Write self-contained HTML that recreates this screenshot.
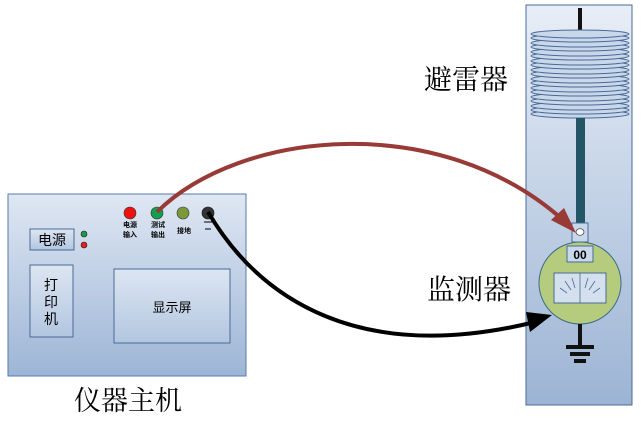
<!DOCTYPE html>
<html><head><meta charset="utf-8"><style>
body{margin:0;width:641px;height:420px;background:#fff;overflow:hidden;font-family:"Liberation Sans","Noto Sans CJK SC",sans-serif}
</style></head><body>
<svg width="641" height="420" viewBox="0 0 641 420" xmlns="http://www.w3.org/2000/svg" font-family="Liberation Sans, Noto Sans CJK SC, sans-serif">
<defs>
<linearGradient id="g1" x1="0" y1="0" x2="0" y2="1"><stop offset="0" stop-color="#dfe7f3"/><stop offset="1" stop-color="#9db5d6"/></linearGradient>
<linearGradient id="g2" x1="0" y1="0" x2="0" y2="1"><stop offset="0" stop-color="#dde6f2"/><stop offset="1" stop-color="#b2c6e0"/></linearGradient>
<linearGradient id="g3" x1="0" y1="0" x2="0" y2="1"><stop offset="0" stop-color="#e8eef7"/><stop offset="1" stop-color="#9cb4d4"/></linearGradient>
</defs>
<rect x="8" y="194" width="238" height="182" fill="url(#g1)" stroke="#5a7ba6" stroke-width="1"/>
<rect x="30" y="229" width="44" height="21" fill="url(#g2)" stroke="#4a6a96"/>
<text x="52" y="245" font-size="14" text-anchor="middle">电源</text>
<circle cx="84" cy="234" r="3" fill="#1a9a4a" stroke="#222" stroke-width=".6"/>
<circle cx="84" cy="245" r="3" fill="#e02020" stroke="#222" stroke-width=".6"/>
<rect x="30" y="265" width="43" height="72" fill="url(#g2)" stroke="#4a6a96"/>
<text x="51" y="290" font-size="14" text-anchor="middle">打</text>
<text x="51" y="307" font-size="14" text-anchor="middle">印</text>
<text x="51" y="324" font-size="14" text-anchor="middle">机</text>
<rect x="114" y="269" width="116" height="74" fill="url(#g2)" stroke="#4a6a96"/>
<text x="172" y="312" font-size="13" text-anchor="middle">显示屏</text>
<circle cx="130" cy="213" r="6" fill="#ee1111" stroke="#333" stroke-width=".6"/>
<circle cx="157" cy="213" r="6" fill="#11a050" stroke="#333" stroke-width=".6"/>
<circle cx="183" cy="213" r="6" fill="#7a9a3a" stroke="#333" stroke-width=".6"/>
<circle cx="208" cy="213" r="6" fill="#333" stroke="#111" stroke-width=".6"/>
<g font-size="7" font-weight="bold" text-anchor="middle">
<text x="130" y="227">电源</text><text x="130" y="237">输入</text>
<text x="158" y="227">测试</text><text x="158" y="237">输出</text>
<text x="184" y="233">接地</text>
</g>
<line x1="204" y1="222" x2="212" y2="222" stroke="#000" stroke-width="1"/>
<line x1="205" y1="229" x2="211" y2="229" stroke="#000" stroke-width="1"/>
<text x="128" y="410" font-size="27" text-anchor="middle" font-family="Liberation Serif, Noto Serif CJK SC, serif">仪器主机</text>
<rect x="526" y="5" width="106" height="400" fill="url(#g3)" stroke="#4a6a96"/>
<rect x="578" y="8" width="4" height="22" fill="#111"/>
<g fill="#c9d7ea" stroke="#4a6a96" stroke-width="1">
<ellipse cx="580" cy="114" rx="49" ry="4"/><ellipse cx="580" cy="110" rx="49" ry="4"/><ellipse cx="580" cy="106" rx="49" ry="4"/><ellipse cx="580" cy="101" rx="49" ry="4"/><ellipse cx="580" cy="97" rx="49" ry="4"/><ellipse cx="580" cy="92" rx="49" ry="4"/><ellipse cx="580" cy="88" rx="49" ry="4"/><ellipse cx="580" cy="83" rx="49" ry="4"/><ellipse cx="580" cy="79" rx="49" ry="4"/><ellipse cx="580" cy="74" rx="49" ry="4"/><ellipse cx="580" cy="70" rx="49" ry="4"/><ellipse cx="580" cy="65" rx="49" ry="4"/><ellipse cx="580" cy="61" rx="49" ry="4"/><ellipse cx="580" cy="56" rx="49" ry="4"/><ellipse cx="580" cy="52" rx="49" ry="4"/><ellipse cx="580" cy="47" rx="49" ry="4"/><ellipse cx="580" cy="43" rx="49" ry="4"/><ellipse cx="580" cy="38" rx="49" ry="4"/><ellipse cx="580" cy="34" rx="49" ry="4"/>
</g>
<rect x="576" y="118" width="9" height="106" fill="#235566"/>
<rect x="572" y="223" width="16" height="19" fill="#c9d7ea" stroke="#4a6a96"/>
<ellipse cx="580" cy="232" rx="4" ry="3.3" fill="#fff" stroke="#333" stroke-width=".7"/>
<circle cx="580" cy="283" r="41" fill="#b5cc7e" stroke="#3c6a8a" stroke-width="1"/>
<rect x="567" y="246" width="26" height="16" fill="#c9d7ea" stroke="#4a6a96"/>
<text x="580" y="259" font-size="12" font-weight="bold" text-anchor="middle">00</text>
<rect x="554" y="273" width="52" height="30" fill="#d5e0ee" stroke="#4a6a96"/>
<line x1="580" y1="273" x2="580" y2="303" stroke="#4a6a96" stroke-width=".8"/>
<g stroke="#4a6a96" stroke-width=".8">
<line x1="560" y1="288" x2="567" y2="293"/><line x1="565" y1="281" x2="571" y2="290"/><line x1="572" y1="278" x2="575" y2="288"/>
<line x1="588" y1="278" x2="585" y2="288"/><line x1="595" y1="281" x2="589" y2="290"/><line x1="600" y1="288" x2="593" y2="293"/>
</g>
<rect x="578" y="324" width="4" height="22" fill="#111"/>
<rect x="566" y="345" width="28" height="4" fill="#111"/>
<rect x="570" y="352" width="20" height="4" fill="#111"/>
<rect x="574" y="359" width="12" height="4" fill="#111"/>
<g font-family="Liberation Serif, Noto Serif CJK SC, serif" font-size="28">
<text x="424" y="89">避雷器</text>
<text x="427" y="299">监测器</text>
</g>
<path d="M157,212 C240,130 440,110 563,220" fill="none" stroke="#983a36" stroke-width="4"/>
<polygon points="576,233 551,220 564,208" fill="#983a36"/>
<path d="M208,212 C260,300 360,365 535,322" fill="none" stroke="#000" stroke-width="4"/>
<polygon points="552,315 530,332 526,312" fill="#000"/>
</svg>
</body></html>
